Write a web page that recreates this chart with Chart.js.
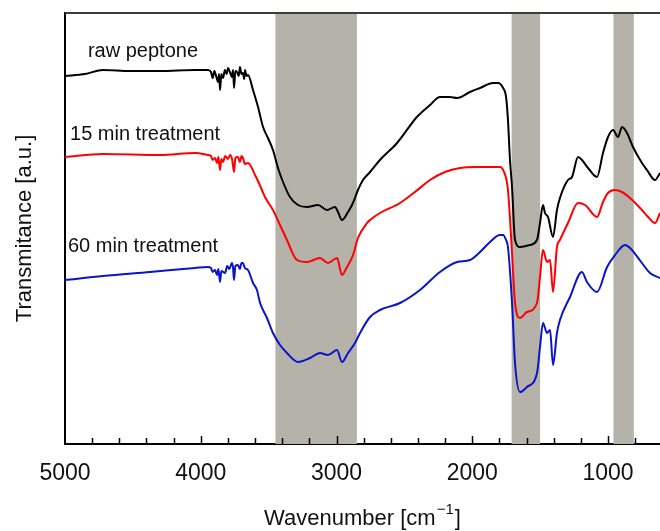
<!DOCTYPE html>
<html>
<head>
<meta charset="utf-8">
<script src="https://cdn.jsdelivr.net/npm/chart.js@4.4.0/dist/chart.umd.min.js"></script>
<style>
  html, body { margin: 0; padding: 0; background: #fff; }
  #wrap { width: 660px; height: 531px; }
</style>
</head>
<body>
<div id="wrap"><canvas id="ftir" width="660" height="531"></canvas></div>
<script>
// wavenumber [cm-1] and transmittance (arbitrary units)
const rawWn = [5000, 4853, 4720, 4521, 4300, 4042,
  3947, 3925, 3912, 3900, 3885, 3873, 3865, 3858, 3848, 3836, 3822, 3810, 3799, 3785,
  3770, 3762, 3755, 3745, 3733, 3720, 3711, 3700, 3689, 3680, 3674, 3662, 3652,
  3615, 3578, 3541, 3505, 3468, 3431, 3394, 3343, 3284, 3217, 3136, 3070, 3011, 2989, 2960,
  2915, 2886, 2864, 2842, 2805, 2753, 2680, 2554, 2408, 2311, 2238, 2164, 2112, 2017, 1943,
  1847, 1810, 1773, 1751, 1737, 1722, 1707, 1685, 1648, 1575, 1523, 1501, 1479, 1464, 1442,
  1405, 1376, 1354, 1295, 1265, 1221, 1192, 1147, 1081, 1037, 1000, 963, 926, 897, 860,
  816, 750, 713, 654, 617];
const rawT = [368, 370, 374, 373, 373, 374,
  374, 372, 366, 373, 367, 362, 370, 354, 370, 366, 374, 370, 376, 372,
  367, 374, 356, 373, 372, 368, 377, 370, 371, 365, 374, 368, 369,
  354, 337, 317, 306, 294, 276, 262, 247, 239, 237, 239, 234, 237, 232, 224,
  232, 239, 246, 254, 264, 272, 284, 301, 327, 339, 347, 347, 346, 352, 356,
  361, 361, 356, 347, 324, 284, 257, 204, 197, 199, 204, 221, 239, 231, 227,
  207, 234, 246, 264, 267, 287, 284, 276, 267, 291, 307, 314, 307, 317, 311,
  297, 281, 274, 264, 271];

const min15Wn = [5000, 4720, 4300, 4042,
  3947, 3925, 3912, 3895, 3880, 3870, 3858, 3848, 3836, 3820, 3800, 3784, 3768, 3755,
  3745, 3726, 3712, 3700, 3689, 3675, 3652,
  3600, 3549, 3527, 3468, 3416, 3365, 3291, 3217, 3122, 3063, 2996, 2960, 2923, 2878,
  2842, 2775, 2753, 2680, 2532, 2422, 2311, 2201, 2090, 1980, 1869, 1796, 1766, 1737,
  1707, 1685, 1648, 1597, 1523, 1501, 1479, 1449, 1427, 1405, 1376, 1354, 1295, 1221,
  1169, 1081, 1037, 1000, 948, 897, 838, 750, 705, 654, 617];
const min15T = [287, 290, 289, 291,
  289, 288, 284, 286, 281, 287, 274, 285, 282, 288, 285, 289, 284, 272,
  286, 287, 282, 288, 286, 280, 281,
  269, 254, 247, 234, 219, 204, 184, 182, 186, 181, 186, 169, 177, 189,
  206, 221, 224, 231, 241, 252, 264, 272, 276, 277, 277, 277, 272, 254,
  191, 141, 126, 132, 141, 167, 194, 182, 184, 152, 197, 204, 221, 241,
  239, 227, 242, 251, 254, 252, 246, 234, 227, 221, 231];

const min60Wn = [5000, 4720, 4374, 4042,
  3947, 3925, 3912, 3895, 3880, 3870, 3858, 3848, 3821, 3805, 3790, 3770, 3762, 3755,
  3745, 3726, 3712, 3700, 3689, 3675, 3652,
  3615, 3586, 3563, 3512, 3468, 3416, 3365, 3284, 3195, 3122, 3063, 2996, 2960, 2915,
  2864, 2827, 2753, 2680, 2532, 2385, 2238, 2112, 2017, 1943, 1869, 1796, 1773, 1751,
  1737, 1707, 1685, 1648, 1597, 1523, 1501, 1479, 1449, 1427, 1405, 1376, 1354, 1280,
  1192, 1155, 1081, 1007, 948, 875, 838, 750, 691, 617];
const min60T = [164, 168, 172, 176,
  177, 176, 172, 174, 169, 175, 162, 173, 171, 178, 175, 181, 176, 164,
  178, 179, 175, 181, 181, 176, 174,
  161, 154, 141, 126, 111, 99, 91, 82, 86, 91, 89, 94, 82, 91,
  101, 111, 127, 134, 141, 154, 172, 182, 184, 192, 202, 209, 209, 204,
  197, 141, 81, 52, 57, 71, 97, 121, 111, 114, 79, 111, 124, 147,
  172, 162, 152, 177, 189, 199, 196, 181, 171, 166];

const seriesNames = ['raw peptone', '15 min treatment', '60 min treatment'];
const majorTicks = [5000, 4000, 3000, 2000, 1000];
const minorStep = 200;
const bands = [[3450, 2850], [1710, 1500], [960, 810]];

// where the curve names sit, in axis units (wavenumber, transmittance)
const nameSpots = [[4831, 387], [4963, 304], [4978, 192]];

const FONT = '"Liberation Sans", Arial, sans-serif';

function pts(wn, t) {
  return wn.map((x, i) => ({ x: x, y: t[i] }));
}

const decorations = {
  id: 'decorations',
  beforeDatasetsDraw(chart) {
    const { ctx, chartArea, scales: { x } } = chart;
    ctx.save();
    ctx.fillStyle = 'rgb(181,179,169)';
    bands.forEach(([a, b]) => {
      const x1 = x.getPixelForValue(a), x2 = x.getPixelForValue(b);
      ctx.fillRect(Math.min(x1, x2), chartArea.top, Math.abs(x2 - x1), chartArea.bottom - chartArea.top);
    });
    ctx.restore();
  },
  afterDraw(chart) {
    const { ctx, chartArea, scales: { x, y } } = chart;
    ctx.save();

    // top frame
    ctx.strokeStyle = '#3c3c3c';
    ctx.lineWidth = 2;
    ctx.beginPath();
    ctx.moveTo(chartArea.left, chartArea.top);
    ctx.lineTo(chartArea.right, chartArea.top);
    ctx.stroke();

    // inward tick marks
    ctx.strokeStyle = '#000';
    ctx.lineWidth = 1.5;
    x.ticks.forEach(t => {
      const px = Math.round(x.getPixelForValue(t.value)) + 0.5;
      if (px < chartArea.left + 3 || px > chartArea.right - 1) return;
      const len = majorTicks.includes(t.value) ? 8 : 6;
      ctx.beginPath();
      ctx.moveTo(px, chartArea.bottom);
      ctx.lineTo(px, chartArea.bottom - len);
      ctx.stroke();
    });

    // curve names
    ctx.font = '20px ' + FONT;
    ctx.fillStyle = '#111';
    ctx.textAlign = 'left';
    ctx.textBaseline = 'alphabetic';
    seriesNames.forEach((name, i) => {
      ctx.fillText(name, x.getPixelForValue(nameSpots[i][0]), y.getPixelForValue(nameSpots[i][1]));
    });

    // x title with superscript
    const main = 'Wavenumber [cm', sup = '\u22121', tail = ']';
    ctx.font = '22px ' + FONT;
    const w1 = ctx.measureText(main).width, w3 = ctx.measureText(tail).width;
    ctx.font = '15px ' + FONT;
    const w2 = ctx.measureText(sup).width;
    const cx = (chartArea.left + chartArea.right) / 2;
    const sx = cx - (w1 + w2 + w3 + 2) / 2;
    const base = chartArea.bottom + 81;
    ctx.font = '22px ' + FONT;
    ctx.fillText(main, sx, base);
    ctx.font = '15px ' + FONT;
    ctx.fillText(sup, sx + w1 + 1, base - 11);
    ctx.font = '22px ' + FONT;
    ctx.fillText(tail, sx + w1 + w2 + 2, base);

    ctx.restore();
  }
};

new Chart(document.getElementById('ftir'), {
  type: 'line',
  data: {
    datasets: [
      { label: seriesNames[0], data: pts(rawWn, rawT), borderColor: '#000000' },
      { label: seriesNames[1], data: pts(min15Wn, min15T), borderColor: '#ff0000' },
      { label: seriesNames[2], data: pts(min60Wn, min60T), borderColor: '#0a14c8' }
    ]
  },
  options: {
    responsive: false,
    animation: false,
    devicePixelRatio: 1,
    layout: { padding: { top: 13, right: 0, left: 0, bottom: 0 } },
    elements: {
      line: { borderWidth: 2, cubicInterpolationMode: 'monotone', fill: false },
      point: { radius: 0, hoverRadius: 0 }
    },
    plugins: {
      legend: { display: false },
      tooltip: { enabled: false }
    },
    scales: {
      x: {
        type: 'linear',
        reverse: true,
        min: 617,
        max: 5000,
        grid: { display: false },
        border: { display: true, color: '#000', width: 2 },
        ticks: {
          autoSkip: false,
          maxRotation: 0,
          padding: 8,
          color: '#111',
          font: { family: FONT, size: 23 },
          callback: v => majorTicks.includes(v) ? String(v) : ''
        },
        afterBuildTicks: s => {
          const list = [];
          for (let v = 5000; v >= 700; v -= minorStep) list.push({ value: v });
          s.ticks = list.reverse();
        },
        afterFit: s => {
          s.height = 87;
          s.paddingLeft = 0;
          s.paddingRight = 0;
        }
      },
      y: {
        min: 0,
        max: 431,
        grid: { display: false },
        border: { display: true, color: '#000', width: 2 },
        ticks: { display: false },
        title: {
          display: true,
          text: 'Transmitance [a.u.]',
          color: '#111',
          font: { family: FONT, size: 22 },
          padding: { top: 12, bottom: 0 }
        },
        afterFit: s => { s.width = 65; }
      }
    }
  },
  plugins: [decorations]
});
</script>
</body>
</html>
